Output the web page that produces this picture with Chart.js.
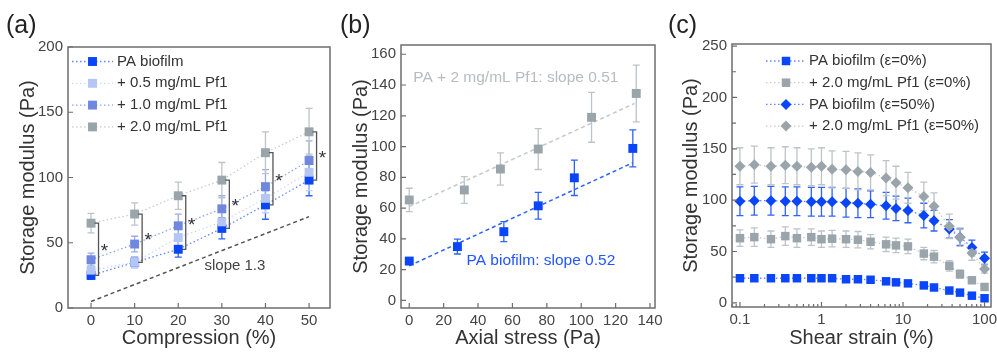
<!DOCTYPE html>
<html>
<head>
<meta charset="utf-8">
<script src="https://cdn.jsdelivr.net/npm/chart.js@4.4.1/dist/chart.umd.min.js"></script>
<style>
  html, body { margin: 0; padding: 0; background: #fff; }
  #wrap { position: relative; width: 997px; height: 352px; overflow: hidden; }
  #wrap canvas { position: absolute; left: 0; top: 0; }
  .tag { position: absolute; font-family: "Liberation Sans", Arial, sans-serif; font-size: 25px; line-height: 25px; color: #222; }
</style>
</head>
<body>
<div id="wrap">
  <canvas id="chartA" width="997" height="352"></canvas>
  <canvas id="chartB" width="997" height="352"></canvas>
  <canvas id="chartC" width="997" height="352"></canvas>
  <span class="tag" style="left:6px;top:12px">(a)</span>
  <span class="tag" style="left:340px;top:12px">(b)</span>
  <span class="tag" style="left:668px;top:12px">(c)</span>
</div>
<script>
// ---- (a) storage modulus vs compression ----
const compression = [0, 10, 20, 30, 40, 50];
const aBiofilm = [25, 35, 45, 61, 79, 98];
const aBiofilmErr = [3, 4, 6, 8, 11, 12];
const aPf05 = [29, 35, 54, 66, 84, 104];
const aPf05Err = [4, 4, 6, 8, 11, 14];
const aPf10 = [37, 49, 63, 76, 93, 113];
const aPf10Err = [5, 6, 9, 10, 13, 15];
const aPf20 = [65, 72, 86, 98, 119, 135];
const aPf20Err = [7.5, 8.5, 10.5, 13.5, 16, 18];
const aSlopeX = [0, 50];
const aSlopeY = [5, 70];
const aTicksX = [0, 10, 20, 30, 40, 50];
const aTicksY = [0, 50, 100, 150, 200];

// ---- (b) storage modulus vs axial stress ----
const bStressBiofilm = [0, 28, 55, 75, 96, 130];
const bBiofilm = [25.6, 35, 44.7, 61.5, 79.7, 98.8];
const bBiofilmErr = [2, 4.8, 6.5, 8.7, 11.5, 12];
const bStressPf = [0, 32, 53, 75, 106, 132];
const bPf = [65.3, 71.8, 85.4, 98.4, 119, 134.5];
const bPfErr = [7.6, 8.7, 10.5, 13.3, 16.2, 18.4];
const bFitPfX = [0, 131];
const bFitPfY = [61, 128];
const bFitBiofilmX = [0, 130];
const bFitBiofilmY = [22.5, 89.5];
const bTicksX = [0, 20, 40, 60, 80, 100, 120, 140];
const bTicksY = [0, 20, 40, 60, 80, 100, 120, 140, 160];

// ---- (c) strain sweep ----
const shearStrain = [0.1, 0.15, 0.24, 0.36, 0.5, 0.75, 1, 1.35, 2, 2.8, 4, 6.2, 8.2, 11.5, 18, 24, 37, 50, 70, 100];
const cBiofilm0 = [24, 24, 24, 24, 24, 24, 24, 24, 23, 23, 22.5, 21, 20, 19, 17, 15, 12, 10, 7, 4.5];
const cBiofilm0Err = [1, 1, 1, 1, 1, 1, 1, 1, 1, 1, 1, 1, 1, 1, 1, 1, 1, 1, 1, 1];
const cPf0 = [63, 64, 62, 65, 63, 64, 62, 62.5, 62, 61.5, 59.5, 57, 56, 55, 48, 45, 36, 28, 22, 15.5];
const cPf0Err = [8, 9, 8, 9, 9, 8, 8, 8, 8, 8, 7, 7, 7, 7, 6, 6, 5, 4, 3, 2];
const cBiofilm50 = [99, 99.5, 99.5, 99, 99, 98.5, 98.5, 98.5, 97.5, 97, 96, 94.5, 92, 90, 85, 80, 72, 64, 54, 43.5];
const cBiofilm50Err = [14, 14, 14, 14, 14, 14, 14, 14, 14, 14, 13, 13, 12, 12, 12, 10, 9, 8, 7, 6];
const cPf50 = [133, 134.5, 133, 134, 133, 132, 133, 130, 129.5, 128, 127, 121.5, 117, 112, 103.5, 94, 74.5, 64, 48.5, 33];
const cPf50Err = [18, 18, 18, 18, 18, 18, 18, 18, 18, 18, 17, 17, 16, 15, 14, 13, 12, 9, 7, 4];
const cTicksX = [0.1, 1, 10, 100];
const cTicksY = [0, 50, 100, 150, 200, 250];

const FONT = '"Liberation Sans", Arial, sans-serif';
Chart.defaults.font.family = FONT;
Chart.defaults.color = '#444';

const BLUE = '#0a45f7', BLUE_LINE = '#5f86ff', BLUE_ERR = '#2f62f8';
const GRAY = '#9aa5ab', GRAY_LINE = '#c6cbce', GRAY_ERR = '#bcc4c8';
const LIGHT = '#b3c6f4', LIGHT_LINE = '#cfdaf6', LIGHT_ERR = '#c3d1f5';
const MID = '#6f87de', MID_LINE = '#8fa4ea', MID_ERR = '#98aae8';

const pts = (xs, ys) => xs.map((x, i) => ({ x, y: ys[i] }));

function series(label, xs, ys, errs, color, lineColor, errColor, style, radius, order) {
  return {
    type: 'line', legendText: label, data: pts(xs, ys), errors: errs, errorColor: errColor,
    borderColor: lineColor, borderWidth: 1.3, borderDash: [1.5, 2.5], tension: 0, fill: false,
    pointStyle: style, pointRadius: radius, pointBackgroundColor: color,
    pointBorderColor: color, pointBorderWidth: 0, order
  };
}

function fitLine(xs, ys, color, dash, width) {
  return { type: 'line', data: pts(xs, ys), borderColor: color, borderWidth: width,
    borderDash: dash, pointRadius: 0, tension: 0, fill: false, order: 20 };
}

function axisX(type, min, max, ticks, title, height, titlePad) {
  return {
    type, min, max, position: 'bottom',
    grid: { display: false, drawTicks: false }, border: { display: false },
    ticks: { font: { size: 15 }, color: '#444', padding: 4, maxRotation: 0, autoSkip: false,
      callback: v => String(v) },
    afterBuildTicks: s => { s.ticks = ticks.map(v => ({ value: v })); },
    afterFit: s => { s.height = height; s.paddingLeft = 0; s.paddingRight = 0; },
    title: { display: true, text: title, font: { size: 20 }, color: '#333', padding: { top: 0, bottom: titlePad } }
  };
}

function axisY(min, max, ticks, title, width, titlePad) {
  return {
    type: 'linear', min, max, position: 'left',
    grid: { display: false, drawTicks: false }, border: { display: false },
    ticks: { font: { size: 15 }, color: '#444', padding: 5, autoSkip: false, callback: v => String(v) },
    afterBuildTicks: s => { s.ticks = ticks.map(v => ({ value: v })); },
    afterFit: s => { s.width = width; s.paddingTop = 0; s.paddingBottom = 0; },
    title: { display: true, text: title, font: { size: 20 }, color: '#333', padding: { top: titlePad, bottom: 0 } }
  };
}

// error bars under the markers
const errorBars = {
  id: 'errorBars',
  beforeDatasetsDraw(chart) {
    const { ctx } = chart;
    const sy = chart.scales.y;
    chart.data.datasets.forEach((ds, i) => {
      if (!ds.errors) return;
      const meta = chart.getDatasetMeta(i);
      ctx.save();
      ctx.strokeStyle = ds.errorColor;
      ctx.lineWidth = 1.3;
      meta.data.forEach((pt, j) => {
        const v = ds.data[j].y, e = ds.errors[j];
        const top = sy.getPixelForValue(v + e), bot = sy.getPixelForValue(v - e);
        ctx.beginPath();
        ctx.moveTo(pt.x, top); ctx.lineTo(pt.x, bot);
        ctx.moveTo(pt.x - 3.5, top); ctx.lineTo(pt.x + 3.5, top);
        ctx.moveTo(pt.x - 3.5, bot); ctx.lineTo(pt.x + 3.5, bot);
        ctx.stroke();
      });
      ctx.restore();
    });
  }
};

// box frame with inward ticks
function frame(xMinor, yMinor) {
  return {
    id: 'frame',
    afterDatasetsDraw(chart) {
      const { ctx, chartArea: a, scales } = chart;
      ctx.save();
      ctx.strokeStyle = '#6e6e6e';
      ctx.lineWidth = 1.5;
      ctx.strokeRect(a.left, a.top, a.right - a.left, a.bottom - a.top);
      ctx.lineWidth = 1.2;
      ctx.beginPath();
      const xt = (v, len) => { const p = scales.x.getPixelForValue(v); if (p < a.left || p > a.right) return; ctx.moveTo(p, a.bottom); ctx.lineTo(p, a.bottom - len); };
      const yt = (v, len) => { const p = scales.y.getPixelForValue(v); if (p < a.top || p > a.bottom) return; ctx.moveTo(a.left, p); ctx.lineTo(a.left + len, p); };
      scales.x.ticks.forEach(t => xt(t.value, 5));
      xMinor.forEach(v => xt(v, 3));
      scales.y.ticks.forEach(t => yt(t.value, 5));
      yMinor.forEach(v => yt(v, 4));
      ctx.stroke();
      ctx.restore();
    }
  };
}

function drawMarker(ctx, style, x, y, r, color) {
  ctx.fillStyle = color;
  ctx.beginPath();
  if (style === 'rectRot') {
    ctx.moveTo(x, y - r); ctx.lineTo(x + r, y); ctx.lineTo(x, y + r); ctx.lineTo(x - r, y);
    ctx.closePath();
  } else {
    const s = r * Math.SQRT1_2;
    ctx.rect(x - s, y - s, 2 * s, 2 * s);
  }
  ctx.fill();
}

function panelLegend(x0, x1, xText, yStart, dy) {
  return {
    id: 'panelLegend',
    afterDatasetsDraw(chart) {
      const ctx = chart.ctx;
      let row = 0;
      chart.data.datasets.forEach(ds => {
        if (!ds.legendText) return;
        const y = yStart + row * dy;
        row++;
        ctx.save();
        ctx.strokeStyle = ds.borderColor;
        ctx.lineWidth = ds.borderWidth;
        ctx.setLineDash(ds.borderDash);
        ctx.beginPath(); ctx.moveTo(x0, y); ctx.lineTo(x1, y); ctx.stroke();
        ctx.setLineDash([]);
        drawMarker(ctx, ds.pointStyle, (x0 + x1) / 2, y, ds.pointRadius, ds.pointBackgroundColor);
        ctx.fillStyle = '#333';
        ctx.font = '15px ' + FONT;
        ctx.textBaseline = 'middle';
        ctx.fillText(ds.legendText, xText, y);
        ctx.restore();
      });
    }
  };
}

function notes(list) {
  return {
    id: 'notes',
    afterDatasetsDraw(chart) {
      const { ctx, scales } = chart;
      ctx.save();
      list.forEach(n => {
        ctx.font = n.size + 'px ' + FONT;
        ctx.fillStyle = n.color;
        ctx.textAlign = n.align;
        ctx.textBaseline = 'middle';
        ctx.fillText(n.text, scales.x.getPixelForValue(n.x), scales.y.getPixelForValue(n.y));
      });
      ctx.restore();
    }
  };
}

// significance brackets between plain biofilm and +2.0 mg/mL
function brackets(xs, lows, highs) {
  return {
    id: 'brackets',
    afterDatasetsDraw(chart) {
      const { ctx, scales } = chart;
      ctx.save();
      ctx.strokeStyle = '#555';
      ctx.lineWidth = 1.3;
      ctx.fillStyle = '#333';
      ctx.font = '19px ' + FONT;
      ctx.textAlign = 'center';
      xs.forEach((x, i) => {
        const px = scales.x.getPixelForValue(x) + 7.5;
        const top = scales.y.getPixelForValue(highs[i]);
        const bot = scales.y.getPixelForValue(lows[i]);
        ctx.beginPath();
        ctx.moveTo(px - 4, top); ctx.lineTo(px, top); ctx.lineTo(px, bot); ctx.lineTo(px - 4, bot);
        ctx.stroke();
        ctx.fillText('*', px + 6, (top + bot) / 2 + 8);
      });
      ctx.restore();
    }
  };
}

function base(pad, scales, plugins, datasets) {
  return {
    type: 'line',
    data: { datasets },
    options: {
      responsive: false, devicePixelRatio: 1, animation: false,
      layout: { padding: pad },
      plugins: { legend: { display: false }, tooltip: { enabled: false } },
      scales
    },
    plugins
  };
}

// panel (a)
new Chart(document.getElementById('chartA'), base(
  { left: 0, right: 667, top: 47, bottom: 0 },
  { x: axisX('linear', -5.28, 54.8, aTicksX, 'Compression (%)', 44, 2),
    y: axisY(0, 200, aTicksY, 'Storage modulus (Pa)', 68, 16) },
  [errorBars, frame([], []), brackets(compression, aBiofilm, aPf20), panelLegend(72, 113, 117, 61.5, 21.8),
   notes([{ x: 33, y: 32, text: 'slope 1.3', color: '#444', align: 'center', size: 15 }])],
  [
    series('PA biofilm', compression, aBiofilm, aBiofilmErr, BLUE, BLUE_LINE, BLUE_ERR, 'rect', 6.3, 4),
    series('+ 0.5 mg/mL Pf1', compression, aPf05, aPf05Err, LIGHT, LIGHT_LINE, LIGHT_ERR, 'rect', 6.3, 3),
    series('+ 1.0 mg/mL Pf1', compression, aPf10, aPf10Err, MID, MID_LINE, MID_ERR, 'rect', 6.3, 2),
    series('+ 2.0 mg/mL Pf1', compression, aPf20, aPf20Err, GRAY, GRAY_LINE, GRAY_ERR, 'rect', 6.3, 1),
    fitLine(aSlopeX, aSlopeY, '#555', [4, 3], 1.5)
  ]
));

// panel (b)
new Chart(document.getElementById('chartB'), base(
  { left: 335, right: 342, top: 45, bottom: 0 },
  { x: axisX('linear', -4.8, 142.9, bTicksX, 'Axial stress (Pa)', 44, 2),
    y: axisY(-4.9, 166, bTicksY, 'Storage modulus (Pa)', 66, 14) },
  [errorBars, frame([], []),
   notes([{ x: 2.3, y: 145, text: 'PA + 2 mg/mL Pf1: slope 0.51', color: '#b5bdc1', align: 'left', size: 15.5 },
          { x: 33.3, y: 25.8, text: 'PA biofilm: slope 0.52', color: '#2255ff', align: 'left', size: 15.5 }])],
  [
    series(null, bStressBiofilm, bBiofilm, bBiofilmErr, BLUE, 'rgba(0,0,0,0)', BLUE_ERR, 'rect', 6.3, 1),
    series(null, bStressPf, bPf, bPfErr, GRAY, 'rgba(0,0,0,0)', GRAY_ERR, 'rect', 6.3, 2),
    fitLine(bFitBiofilmX, bFitBiofilmY, '#2d62ff', [4, 3], 1.5),
    fitLine(bFitPfX, bFitPfY, '#c4c9cc', [4, 3], 1.5)
  ]
));

// panel (c)
const cMinorX = [];
[0.01, 0.1, 1, 10].forEach(d => { for (let k = 2; k <= 9; k++) cMinorX.push(d * k); });
const cMinorY = [25, 75, 125, 175, 225];
new Chart(document.getElementById('chartC'), base(
  { left: 665, right: 4, top: 44, bottom: 0 },
  { x: axisX('logarithmic', 0.0799, 120, cTicksX, 'Shear strain (%)', 45, 2),
    y: axisY(-4, 252, cTicksY, 'Storage modulus (Pa)', 67, 14) },
  [errorBars, frame(cMinorX, cMinorY), panelLegend(766, 806, 809, 61, 21.7)],
  [
    series('PA biofilm (\u03b5=0%)', shearStrain, cBiofilm0, cBiofilm0Err, BLUE, BLUE_LINE, BLUE_ERR, 'rect', 6, 4),
    series('+ 2.0 mg/mL Pf1 (\u03b5=0%)', shearStrain, cPf0, cPf0Err, GRAY, GRAY_LINE, GRAY_ERR, 'rect', 6, 3),
    series('PA biofilm (\u03b5=50%)', shearStrain, cBiofilm50, cBiofilm50Err, BLUE, BLUE_LINE, BLUE_ERR, 'rectRot', 5.5, 2),
    series('+ 2.0 mg/mL Pf1 (\u03b5=50%)', shearStrain, cPf50, cPf50Err, GRAY, GRAY_LINE, GRAY_ERR, 'rectRot', 5.5, 1)
  ]
));
</script>
</body>
</html>
